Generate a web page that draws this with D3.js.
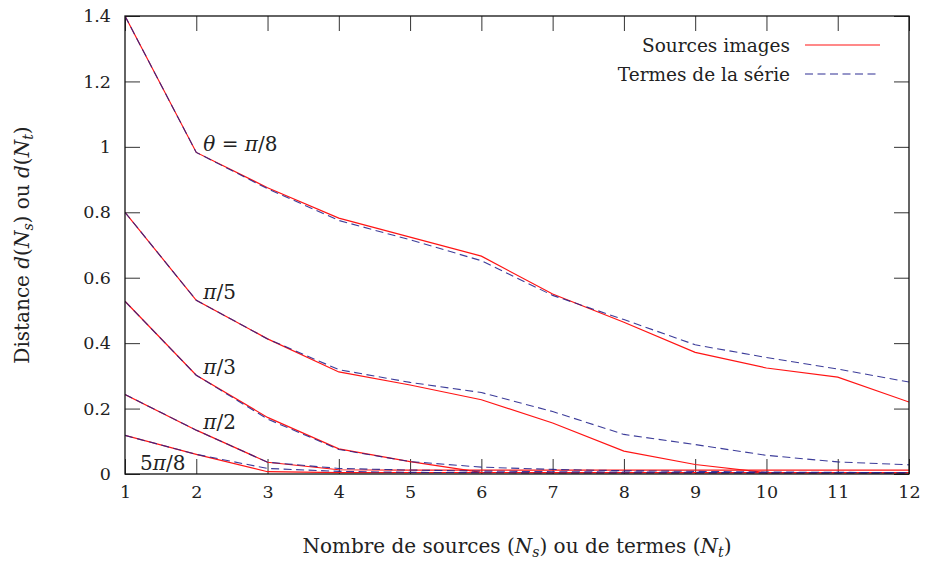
<!DOCTYPE html>
<html>
<head>
<meta charset="utf-8">
<script src="https://cdn.jsdelivr.net/npm/d3@7"></script>
<style>
  body { margin: 0; background: #fff; }
  svg text { font-family: "DejaVu Serif", "Liberation Serif", serif; fill: #222; }
</style>
</head>
<body>
<svg id="chart" width="926" height="563"></svg>
<script>
// data
const nValues = [1, 2, 3, 4, 5, 6, 7, 8, 9, 10, 11, 12];
const xTicks = [1, 2, 3, 4, 5, 6, 7, 8, 9, 10, 11, 12];
const yTicks = [0, 0.2, 0.4, 0.6, 0.8, 1, 1.2, 1.4];

// "Sources images" (solid red)
const sourcesPi8 = [1.4, 0.983, 0.875, 0.782, 0.724, 0.666, 0.55, 0.464, 0.372, 0.324, 0.296, 0.22];
const sourcesPi5 = [0.8, 0.531, 0.413, 0.312, 0.272, 0.227, 0.156, 0.07, 0.029, 0.004, 0.004, 0.004];
const sourcesPi3 = [0.528, 0.302, 0.173, 0.077, 0.038, 0.005, 0.004, 0.004, 0.004, 0.004, 0.004, 0.004];
const sourcesPi2 = [0.243, 0.134, 0.036, 0.013, 0.012, 0.012, 0.012, 0.012, 0.012, 0.012, 0.012, 0.012];
const sources5Pi8 = [0.118, 0.06, 0.007, 0.004, 0.004, 0.004, 0.004, 0.004, 0.004, 0.004, 0.004, 0.004];

// "Termes de la série" (dashed blue)
const termsPi8 = [1.4, 0.983, 0.872, 0.775, 0.716, 0.652, 0.546, 0.472, 0.395, 0.356, 0.321, 0.281];
const termsPi5 = [0.8, 0.531, 0.413, 0.319, 0.28, 0.249, 0.191, 0.121, 0.09, 0.057, 0.037, 0.028];
const termsPi3 = [0.528, 0.302, 0.168, 0.075, 0.038, 0.021, 0.014, 0.01, 0.008, 0.006, 0.005, 0.004];
const termsPi2 = [0.243, 0.134, 0.036, 0.017, 0.012, 0.009, 0.007, 0.006, 0.005, 0.004, 0.004, 0.003];
const terms5Pi8 = [0.118, 0.06, 0.017, 0.008, 0.005, 0.004, 0.003, 0.003, 0.003, 0.003, 0.003, 0.003];

const sourcesSeries = [sourcesPi8, sourcesPi5, sourcesPi3, sourcesPi2, sources5Pi8];
const termsSeries = [termsPi8, termsPi5, termsPi3, termsPi2, terms5Pi8];

// curve labels, anchored on a data point; [text, italic]
const curveLabels = [
  { n: 2, v: 0.983, dx: 7, parts: [["θ", true], [" = ", false], ["π", true], ["/8", false]] },
  { n: 2, v: 0.531, dx: 7, parts: [["π", true], ["/5", false]] },
  { n: 2, v: 0.302, dx: 7, parts: [["π", true], ["/3", false]] },
  { n: 2, v: 0.134, dx: 7, parts: [["π", true], ["/2", false]] },
  { n: 1, v: 0.0, dx: 15, parts: [["5", false], ["π", true], ["/8", false]] },
];

const W = 926, H = 563;
const margin = { top: 16, right: 17, bottom: 89, left: 125 };

const svg = d3.select("#chart");
const x = d3.scaleLinear().domain([1, 12]).range([margin.left, W - margin.right]);
const y = d3.scaleLinear().domain([0, 1.4]).range([H - margin.bottom, margin.top]);

const RED = "#ff1414";
const BLUE = "#22228c";
const tickLen = 15;

svg.append("clipPath").attr("id", "plotclip")
  .append("rect")
  .attr("x", margin.left).attr("y", margin.top)
  .attr("width", x(12) - x(1)).attr("height", y(0) - y(1.4));

// axes, ticks inward on all four sides
const axisStyle = g => {
  g.select(".domain").remove();
  g.selectAll(".tick line").attr("stroke", "#333").attr("stroke-width", 1);
  g.selectAll(".tick text").attr("font-size", 17.5).attr("fill", "#222")
    .attr("font-family", "DejaVu Serif, Liberation Serif, serif");
};

svg.append("g")
  .attr("transform", `translate(0,${y(0)})`)
  .call(d3.axisBottom(x).tickValues(xTicks).tickSize(-tickLen).tickPadding(12).tickFormat(d3.format("d")))
  .call(axisStyle);

svg.append("g")
  .attr("transform", `translate(0,${y(1.4)})`)
  .call(d3.axisTop(x).tickValues(xTicks).tickSize(-tickLen).tickFormat(""))
  .call(axisStyle);

svg.append("g")
  .attr("transform", `translate(${x(1)},0)`)
  .call(d3.axisLeft(y).tickValues(yTicks).tickSize(-tickLen).tickPadding(14)
    .tickFormat(d => d === 0 ? "0" : d === 1 ? "1" : d3.format(".1f")(d)))
  .call(axisStyle);

svg.append("g")
  .attr("transform", `translate(${x(12)},0)`)
  .call(d3.axisRight(y).tickValues(yTicks).tickSize(-tickLen).tickFormat(""))
  .call(axisStyle);

// curves
const line = d3.line().x((d, i) => x(nValues[i])).y(d => y(d));
const curves = svg.append("g").attr("clip-path", "url(#plotclip)");

sourcesSeries.forEach(s => {
  curves.append("path").attr("d", line(s))
    .attr("fill", "none").attr("stroke", RED).attr("stroke-width", 1.2);
});
termsSeries.forEach(s => {
  curves.append("path").attr("d", line(s))
    .attr("fill", "none").attr("stroke", BLUE).attr("stroke-width", 1.1)
    .attr("stroke-opacity", 0.88).attr("stroke-dasharray", "8,4.5");
});

// frame
svg.append("rect")
  .attr("x", x(1)).attr("y", y(1.4))
  .attr("width", x(12) - x(1)).attr("height", y(0) - y(1.4))
  .attr("fill", "none").attr("stroke", "#111").attr("stroke-width", 1.3);

// curve labels
curveLabels.forEach(lab => {
  const t = svg.append("text")
    .attr("font-size", 20)
    .attr("x", x(lab.n) + lab.dx)
    .attr("y", y(lab.v) - (lab.v === 0 ? 4 : 1));
  lab.parts.forEach(([s, it]) => {
    t.append("tspan").attr("font-style", it ? "italic" : null).text(s);
  });
});

// legend
const legend = [
  { label: "Sources images", color: RED, dash: null, opacity: 1 },
  { label: "Termes de la série", color: BLUE, dash: "8,4.5", opacity: 0.95 },
];
legend.forEach((l, i) => {
  const ly = 45 + i * 29;
  svg.append("text").attr("x", 790).attr("y", ly + 7)
    .attr("text-anchor", "end").attr("font-size", 18.5).text(l.label);
  svg.append("line").attr("x1", 805).attr("x2", 880).attr("y1", ly).attr("y2", ly)
    .attr("stroke", l.color).attr("stroke-width", 1.2)
    .attr("stroke-opacity", l.opacity)
    .attr("stroke-dasharray", l.dash);
});

// x axis title
const xt = svg.append("text").attr("x", (x(1) + x(12)) / 2).attr("y", 553)
  .attr("text-anchor", "middle").attr("font-size", 20);
xt.append("tspan").text("Nombre de sources (");
xt.append("tspan").attr("font-style", "italic").text("N");
xt.append("tspan").attr("font-style", "italic").attr("font-size", 14).attr("dy", 4).text("s");
xt.append("tspan").attr("dy", -4).text(") ou de termes (");
xt.append("tspan").attr("font-style", "italic").text("N");
xt.append("tspan").attr("font-style", "italic").attr("font-size", 14).attr("dy", 4).text("t");
xt.append("tspan").attr("dy", -4).text(")");

// y axis title
const yt = svg.append("text")
  .attr("transform", `translate(29,${(y(0) + y(1.4)) / 2}) rotate(-90)`)
  .attr("text-anchor", "middle").attr("font-size", 20);
yt.append("tspan").text("Distance ");
yt.append("tspan").attr("font-style", "italic").text("d");
yt.append("tspan").text("(");
yt.append("tspan").attr("font-style", "italic").text("N");
yt.append("tspan").attr("font-style", "italic").attr("font-size", 14).attr("dy", 4).text("s");
yt.append("tspan").attr("dy", -4).text(") ou ");
yt.append("tspan").attr("font-style", "italic").text("d");
yt.append("tspan").text("(");
yt.append("tspan").attr("font-style", "italic").text("N");
yt.append("tspan").attr("font-style", "italic").attr("font-size", 14).attr("dy", 4).text("t");
yt.append("tspan").attr("dy", -4).text(")");
</script>
</body>
</html>
